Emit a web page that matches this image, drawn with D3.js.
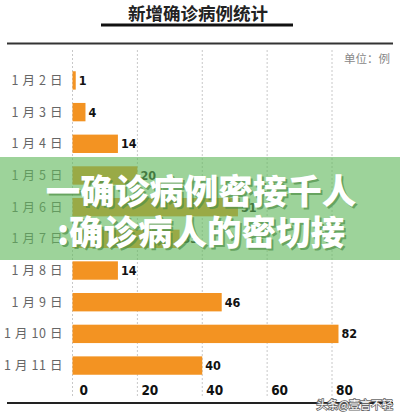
<!DOCTYPE html>
<html><head><meta charset="utf-8">
<script src="https://cdn.jsdelivr.net/npm/d3@7"></script>
<style>html,body{margin:0;padding:0;background:#fff;}svg{display:block;}</style>
</head><body>
<svg id="c" width="400" height="418"></svg>
<script>
const categories = ["1 月 2 日","1 月 3 日","1 月 4 日","1 月 5 日","1 月 6 日","1 月 7 日","1 月 8 日","1 月 9 日","1 月 10 日","1 月 11 日"];
const values = [1,4,14,20,51,33,14,46,82,40];
const ticks = [0,20,40,60,80];
const title = "新增确诊病例统计";
const unitLabel = "单位：例";
const overlayLines = ["一确诊病例密接千人", ":确诊病人的密切接"];
const watermark = "头条@壹言不轻";

const svg = d3.select("#c");
const cjk = "'Noto Sans CJK SC','Noto Sans',sans-serif";
const x = d3.scaleLinear().domain([0,80]).range([72.5,332]);
const y = d3.scaleBand().domain(categories).range([64.6,381.4]).paddingInner(0.42).paddingOuter(0.21);

// title
svg.append("text").attr("x",198).attr("y",19.5).attr("text-anchor","middle")
  .attr("font-family",cjk).attr("font-weight",700).attr("font-size",17.5).attr("fill","#222").text(title);
svg.append("rect").attr("x",101).attr("y",23.5).attr("width",192).attr("height",3).attr("fill","#111");
svg.append("line").attr("x1",7).attr("x2",393).attr("y1",43.5).attr("y2",43.5).attr("stroke","#333").attr("stroke-width",2);
svg.append("line").attr("x1",7).attr("x2",393).attr("y1",403).attr("y2",403).attr("stroke","#222").attr("stroke-width",2);

// grid
svg.append("g").selectAll("line").data(ticks).join("line")
  .attr("x1",d=>x(d)).attr("x2",d=>x(d)).attr("y1",50).attr("y2",396)
  .attr("stroke","#c8c8c8").attr("stroke-width",1).attr("stroke-dasharray","2,2");

// unit
svg.append("text").attr("x",390).attr("y",63).attr("text-anchor","end")
  .attr("font-family",cjk).attr("font-size",11.5).attr("fill","#888").text(unitLabel);

// bars
svg.append("g").selectAll("rect").data(values).join("rect")
  .attr("x",x(0)).attr("y",(d,i)=>y(categories[i])).attr("width",d=>x(d)-x(0)).attr("height",y.bandwidth())
  .attr("fill","#f39322");

// value labels
svg.append("g").selectAll("text").data(values).join("text")
  .attr("x",d=>x(d)+3).attr("y",(d,i)=>y(categories[i])+y.bandwidth()/2).attr("dy","0.36em")
  .attr("font-family","'DejaVu Sans Condensed','DejaVu Sans',sans-serif").attr("font-weight",700).attr("font-size",12.5)
  .attr("fill","#111").text(d=>d);

// category labels
svg.append("g").selectAll("text").data(categories).join("text")
  .attr("x",63).attr("y",d=>y(d)+y.bandwidth()/2).attr("dy","0.36em").attr("text-anchor","end")
  .attr("font-family",cjk).attr("font-size",12.5).attr("letter-spacing",0.6).attr("fill","#666").text(d=>d);

// x tick labels
svg.append("g").selectAll("text").data(ticks).join("text")
  .attr("x",d=>x(d)+(d===0?7:4)).attr("y",395)
  .attr("font-family","'DejaVu Sans Condensed','DejaVu Sans',sans-serif").attr("font-weight",700).attr("font-size",13.5)
  .attr("fill","#111").text(d=>d);

// overlay banner
svg.append("rect").attr("x",0).attr("y",157).attr("width",400).attr("height",103)
  .attr("fill","rgb(97,184,92)").attr("fill-opacity",0.62);
const oy = [189,230];
overlayLines.forEach((t,i)=>{
  svg.append("text").attr("x",203).attr("y",oy[i]+2).attr("text-anchor","middle").attr("dominant-baseline","central")
    .attr("font-family",cjk).attr("font-weight",900).attr("font-size",34.5).attr("fill","#4f8f46").attr("fill-opacity",0.7).text(t);
  svg.append("text").attr("x",201).attr("y",oy[i]).attr("text-anchor","middle").attr("dominant-baseline","central")
    .attr("font-family",cjk).attr("font-weight",900).attr("font-size",34.5).attr("fill","#fff").text(t);
});

// watermark
svg.append("text").attr("x",393).attr("y",409).attr("text-anchor","end")
  .attr("font-family",cjk).attr("font-size",11).attr("fill","#fff").attr("stroke","#666").attr("stroke-width",1.6)
  .attr("paint-order","stroke").text(watermark);
</script>
</body></html>
